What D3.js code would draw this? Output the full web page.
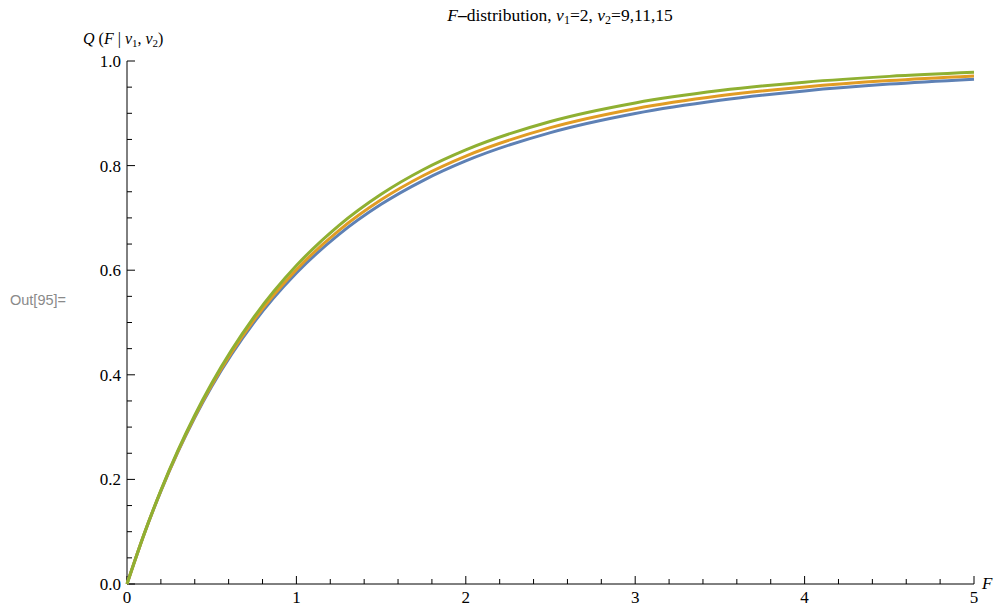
<!DOCTYPE html>
<html><head><meta charset="utf-8">
<script src="https://cdn.jsdelivr.net/npm/d3@7"></script>
<style>body{margin:0;background:#fff}svg{display:block}</style>
</head><body>
<svg id="c" width="1001" height="607"></svg>
<script>
const fValues = [0, 0.1, 0.2, 0.3, 0.4, 0.5, 0.75, 1, 1.25, 1.5, 1.75, 2, 2.5, 3, 3.5, 4, 4.5, 5];
const qNu9  = [0, 0.0942, 0.1777, 0.2520, 0.3183, 0.3776, 0.5003, 0.5946, 0.6681, 0.7260, 0.7719, 0.8089, 0.8631, 0.8996, 0.9249, 0.9428, 0.9558, 0.9653];
const qNu11 = [0, 0.0944, 0.1784, 0.2533, 0.3203, 0.3803, 0.5050, 0.6010, 0.6758, 0.7346, 0.7811, 0.8183, 0.8726, 0.9088, 0.9334, 0.9505, 0.9627, 0.9715];
const qNu15 = [0, 0.0946, 0.1791, 0.2548, 0.3227, 0.3837, 0.5107, 0.6089, 0.6853, 0.7452, 0.7926, 0.8301, 0.8844, 0.9198, 0.9434, 0.9595, 0.9706, 0.9783];
const seriesNames = ["ν2=9", "ν2=11", "ν2=15"];
const seriesColors = ["#5E81B5", "#E19C24", "#8FB032"];
const xMajorTicks = [0, 1, 2, 3, 4, 5];
const yMajorTicks = [0, 0.2, 0.4, 0.6, 0.8, 1.0];

const svg = d3.select("#c");
const x = d3.scaleLinear().domain([0, 5]).range([127, 974]);
const y = d3.scaleLinear().domain([0, 1]).range([584, 61]);
const serif = "'Liberation Serif','Times New Roman',serif";

const xMinor = d3.range(0, 5.0001, 0.2).filter(v => Math.abs(v - Math.round(v)) > 1e-6);
const yMinor = d3.range(0, 1.0001, 0.05).filter(v => Math.abs(v*5 - Math.round(v*5)) > 1e-6);

const gx = svg.append("g");
gx.append("line").attr("x1", x(0)).attr("x2", x(5)).attr("y1", y(0)).attr("y2", y(0)).attr("stroke", "#000").attr("stroke-width", 1);
gx.selectAll(".mj").data(xMajorTicks).join("line").attr("class","mj").attr("x1", d => x(d)).attr("x2", d => x(d)).attr("y1", y(0)).attr("y2", y(0) - 8).attr("stroke", "#000");
gx.selectAll(".mn").data(xMinor).join("line").attr("class","mn").attr("x1", d => x(d)).attr("x2", d => x(d)).attr("y1", y(0)).attr("y2", y(0) - 5).attr("stroke", "#000");
gx.selectAll("text").data(xMajorTicks).join("text").attr("x", d => x(d)).attr("y", y(0) + 19).attr("text-anchor", "middle")
  .attr("font-family", serif).attr("font-size", 17).text(d => d3.format("d")(d));

const gy = svg.append("g");
gy.append("line").attr("x1", x(0)).attr("x2", x(0)).attr("y1", y(0)).attr("y2", y(1)).attr("stroke", "#000").attr("stroke-width", 1);
gy.selectAll(".mj").data(yMajorTicks).join("line").attr("class","mj").attr("x1", x(0)).attr("x2", x(0) + 8).attr("y1", d => y(d)).attr("y2", d => y(d)).attr("stroke", "#000");
gy.selectAll(".mn").data(yMinor).join("line").attr("class","mn").attr("x1", x(0)).attr("x2", x(0) + 5).attr("y1", d => y(d)).attr("y2", d => y(d)).attr("stroke", "#000");
gy.selectAll("text").data(yMajorTicks).join("text").attr("x", x(0) - 6).attr("y", d => y(d) + 6).attr("text-anchor", "end")
  .attr("font-family", serif).attr("font-size", 17).text(d => d3.format(".1f")(d));

const allSeries = [qNu9, qNu11, qNu15];
const line = d3.line().x(d => x(d[0])).y(d => y(d[1])).curve(d3.curveMonotoneX);
allSeries.forEach((vals, i) => {
  svg.append("path").datum(fValues.map((f, j) => [f, vals[j]]))
    .attr("d", line).attr("fill", "none").attr("stroke", seriesColors[i]).attr("stroke-width", 3)
    .attr("stroke-linejoin", "round").attr("stroke-linecap", "butt");
});

// title
const t = svg.append("text").attr("x", 560).attr("y", 21).attr("text-anchor", "middle").attr("font-family", serif).attr("font-size", 17.5);
t.append("tspan").attr("font-style", "italic").text("F");
t.append("tspan").attr("font-weight", "bold").text("\u2013");
t.append("tspan").text("distribution, ");
t.append("tspan").attr("font-style", "italic").text("ν");
t.append("tspan").attr("font-size", 12).attr("dy", 3).text("1");
t.append("tspan").attr("dy", -3).text("=2, ");
t.append("tspan").attr("font-style", "italic").text("ν");
t.append("tspan").attr("font-size", 12).attr("dy", 3).text("2");
t.append("tspan").attr("dy", -3).text("=9,11,15");

// y label
const yl = svg.append("text").attr("x", 83).attr("y", 44).attr("font-family", serif).attr("font-size", 16);
yl.append("tspan").attr("font-style", "italic").text("Q");
yl.append("tspan").text(" (");
yl.append("tspan").attr("font-style", "italic").text("F");
yl.append("tspan").text(" | ");
yl.append("tspan").attr("font-style", "italic").text("ν");
yl.append("tspan").attr("font-size", 11).attr("dy", 3).text("1");
yl.append("tspan").attr("dy", -3).text(", ");
yl.append("tspan").attr("font-style", "italic").text("ν");
yl.append("tspan").attr("font-size", 11).attr("dy", 3).text("2");
yl.append("tspan").attr("dy", -3).text(")");

svg.append("text").attr("x", 982).attr("y", 589).attr("font-family", serif).attr("font-size", 17).attr("font-style", "italic").text("F");

svg.append("text").attr("x", 10).attr("y", 305).attr("font-family", "'Liberation Sans',Arial,sans-serif").attr("font-size", 14.5).attr("fill", "#8a8a8a").text("Out[95]=");
</script>
</body></html>
